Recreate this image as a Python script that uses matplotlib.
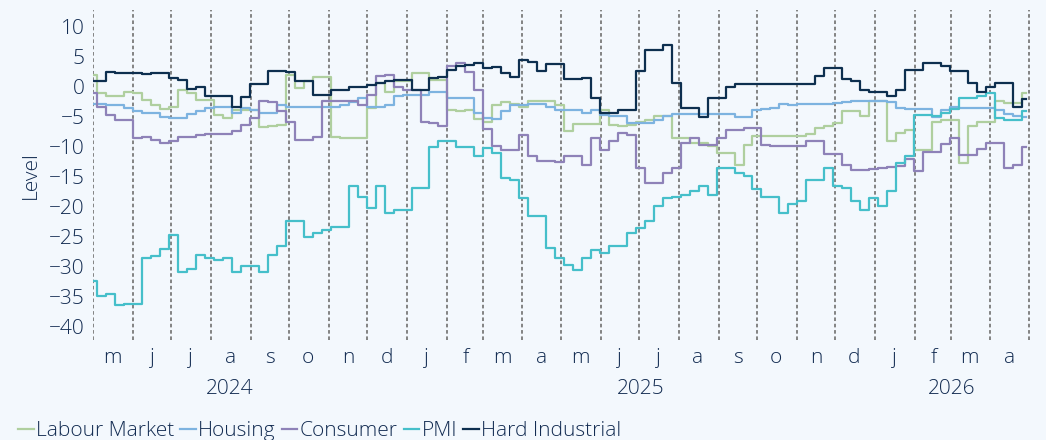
import matplotlib
matplotlib.use("Agg")
import matplotlib.pyplot as plt
import matplotlib.dates as mdates
import matplotlib.transforms as mtransforms
import pandas as pd

# weekly readings, 2024-05-01 .. 2026-04-29
weeks = pd.date_range("2024-05-01", periods=105, freq="7D")

labour_market = [
    2.0, -1.0, -1.6, -1.6, -0.9, -1.0, -2.2, -3.0, -3.7, -3.4, -0.5, -1.0, -2.2, -2.2, -4.7, -5.2,
    -3.8, -3.8, -3.8, -6.7, -6.5, -6.3, 2.0, -0.2, 0.9, 1.6,
    1.6, -8.3, -8.6, -8.6, -8.6, -3.5, 0.6, -0.8, 0.9, 0.9, 2.3, 2.3, 1.2, 1.2, -3.8, -4.0, -3.8,
    -5.3, -5.8, -3.0, -2.6, -2.8, -3.3, -2.4, -2.3, -2.3, -3.0,
    -7.4, -6.2, -6.2, -6.2, -3.8, -6.3, -6.6, -6.3, -5.8, -5.5, -4.9, -4.9, -8.6, -8.6, -9.4, -9.4,
    -9.9, -11.1, -11.1, -13.0, -9.7, -8.2, -8.2, -8.2, -8.2, -8.2,
    -8.2, -7.8, -6.9, -6.6, -6.1, -4.1, -4.1, -4.9, -2.4, -2.4, -9.1, -7.7, -7.2, -10.5, -10.5, -5.8,
    -5.5, -5.5, -12.7, -6.6, -5.9, -5.9, -2.4, -2.7, -2.7, -1.0,
]
housing = [
    -2.9, -2.9, -3.0, -3.0, -3.6, -4.1, -4.3, -4.3, -5.1, -5.2, -5.2, -4.6, -4.0, -3.6, -3.4, -3.4,
    -4.4, -3.6, -3.8, -4.4, -4.4, -3.0, -3.3, -3.3, -3.3, -3.3,
    -3.4, -3.4, -3.0, -2.6, -1.8, -3.3, -3.4, -3.0, -1.5, -1.3, -1.3, -1.3, -0.9, -0.9, -1.8, -1.8,
    -1.9, -4.4, -5.2, -5.3, -4.1, -3.0, -3.0, -2.8, -2.8, -3.3, -3.8,
    -3.8, -3.8, -4.4, -3.8, -4.7, -4.8, -4.8, -6.0, -6.0, -6.0, -5.5, -4.9, -4.5, -4.5, -4.5, -4.5,
    -4.5, -4.5, -4.5, -5.1, -5.1, -3.8, -3.7, -3.5, -2.8, -3.0,
    -2.8, -2.8, -2.9, -2.8, -2.7, -2.5, -2.4, -2.4, -2.4, -2.3, -2.5, -3.6, -3.7, -3.7, -3.7, -5.1,
    -3.8, -3.3, -3.6, -3.6, -3.6, -3.6, -3.9, -4.5, -4.8, -5.1,
]
consumer = [
    -1.0, -3.3, -4.7, -5.5, -5.5, -8.6, -8.3, -8.8, -9.4, -9.0, -8.3, -8.3, -8.0, -7.8, -7.8, -7.8,
    -7.4, -6.3, -5.2, -2.4, -2.6, -4.0, -5.8, -8.8, -8.8, -8.3,
    -2.4, -2.4, -2.4, -2.4, -3.0, -1.3, 1.8, 2.0, 0.0, -0.5, -0.5, -5.8, -6.0, -6.5, 3.5, 3.9, 2.5,
    -0.5, -7.0, -9.9, -10.5, -10.5, -8.0, -11.6, -12.4, -12.4, -12.6,
    -11.6, -11.6, -13.0, -8.6, -10.5, -9.0, -7.7, -8.0, -13.6, -16.1, -16.1, -14.4, -13.5, -9.3,
    -8.6, -9.7, -9.7, -8.6, -7.2, -7.2, -6.9, -6.9, -9.7, -9.8, -9.8, -9.9,
    -9.9, -9.1, -9.1, -11.2, -11.2, -13.0, -13.8, -13.8, -13.7, -13.6, -13.3, -13.2, -12.0, -14.0,
    -10.8, -10.8, -9.5, -8.6, -11.3, -11.3, -10.4, -9.4, -9.4, -13.6, -13.0, -10.0,
]
pmi = [
    -32.4, -34.9, -34.6, -36.4, -36.2, -36.2, -28.6, -28.2, -27.0, -24.7, -30.8, -30.4, -28.0, -28.6,
    -28.9, -28.6, -30.8, -29.9, -29.9, -30.8, -28.0, -26.5, -22.3, -22.3, -25.0, -24.3,
    -23.8, -23.3, -23.3, -16.6, -18.3, -20.2, -16.6, -21.1, -20.5, -20.5, -16.9, -16.9, -10.0, -9.1,
    -9.1, -10.0, -10.0, -11.6, -10.2, -11.1, -15.2, -15.5, -18.6, -21.6, -21.6, -26.9, -28.5,
    -29.7, -30.5, -28.6, -27.2, -27.7, -26.6, -26.6, -24.4, -23.6, -22.4, -19.9, -18.6, -18.3, -18.0,
    -17.4, -16.6, -18.0, -13.6, -13.6, -14.4, -14.9, -17.0, -18.3, -18.3, -21.1, -19.5,
    -19.1, -15.5, -15.5, -13.6, -16.6, -16.9, -19.1, -20.5, -18.6, -19.9, -17.4, -12.7, -11.6, -4.7,
    -4.7, -4.9, -4.4, -3.7, -1.9, -1.9, -1.5, -1.05, -5.2, -5.5, -5.5, -4.0,
]
hard_industrial = [
    1.0, 1.0, 2.4, 2.3, 2.3, 2.3, 2.2, 2.3, 2.3, 1.4, 1.2, -0.4, -0.1, -1.5, -1.5, -1.5, -3.3, -1.7,
    0.5, 0.5, 2.7, 2.7, 2.4, 1.0, 1.0, -1.3,
    -1.3, -0.6, -0.5, 0.0, 0.0, 0.3, 0.6, 1.0, 1.2, 1.2, -0.5, -0.5, 1.4, 1.7, 2.8, 3.4, 3.7, 3.9,
    3.1, 3.3, 2.3, 1.7, 4.5, 4.2, 2.7, 3.8, 3.8,
    1.3, 1.3, 1.4, -1.9, -4.4, -4.4, -3.9, -3.9, 2.6, 6.2, 6.2, 7.0, 0.6, -3.6, -3.6, -5.1, -1.9,
    -1.9, 0.0, 0.4, 0.4, 0.5, 0.5, 0.5, 0.5, 0.5,
    0.5, 0.5, 1.8, 3.1, 3.1, 1.3, 1.0, -0.5, -0.8, -0.8, -1.5, -0.5, 2.8, 2.8, 3.9, 3.9, 3.5, 2.6,
    2.6, 0.6, -0.8, 0.0, 0.6, 0.6, -3.3, -2.0,
]

series = {
    "Labour Market": (labour_market, "#afcf9f"),
    "Housing": (housing, "#7db3e0"),
    "Consumer": (consumer, "#8e82b8"),
    "PMI": (pmi, "#45bfca"),
    "Hard Industrial": (hard_industrial, "#0d2f4f"),
}

year_labels = ["2024", "2025", "2026"]
year_label_dates = ["2024-08-16", "2025-07-02", "2026-03-02"]

BG = "#f3f8fd"
TEXT = "#132c52"
plt.rcParams["font.family"] = ["Open Sans", "DejaVu Sans"]
plt.rcParams["font.size"] = 15
plt.rcParams["font.weight"] = "light"
plt.rcParams["axes.labelweight"] = "light"

fig = plt.figure(figsize=(10.46, 4.4), dpi=100, facecolor=BG)
ax = fig.add_axes([93 / 1046, 1 - 340 / 440, 937 / 1046, 330 / 440], facecolor=BG)

for name, (values, color) in series.items():
    ax.plot(weeks, values, drawstyle="steps-mid", color=color, lw=1.6, label=name)

ax.set_xlim(pd.Timestamp("2024-05-01"), pd.Timestamp("2026-05-02"))
ax.set_ylim(-42.2, 12.8)
ax.set_yticks(range(-40, 11, 5))

ax.xaxis.set_major_locator(mdates.MonthLocator())
ax.xaxis.set_major_formatter(plt.NullFormatter())
ax.xaxis.set_minor_locator(mdates.MonthLocator(bymonthday=16))
ax.xaxis.set_minor_formatter(mdates.DateFormatter("%b"))
ax.tick_params(axis="x", which="both", length=0)
ax.tick_params(axis="x", which="minor", pad=6)
ax.tick_params(axis="y", length=0, pad=6)
ax.grid(True, axis="x", which="major", color="#7a7a7a", lw=1.3, linestyle=(0, (2, 1.5)))

fig.canvas.draw()
ax.set_xticklabels([t.get_text()[0].lower() for t in ax.xaxis.get_minorticklabels()], minor=True)
for lab in ax.get_xticklabels(minor=True) + ax.get_yticklabels():
    lab.set_color(TEXT)

trans = mtransforms.blended_transform_factory(ax.transData, ax.transAxes)
for label, d in zip(year_labels, year_label_dates):
    ax.text(pd.Timestamp(d), -0.15, label, transform=trans, ha="center", va="center", color=TEXT)

ax.set_ylabel("Level", color=TEXT, labelpad=6)
for s in ax.spines.values():
    s.set_visible(False)

fig.legend(loc="center left", bbox_to_anchor=(18 / 1046, 9 / 440), ncol=5, frameon=False,
           handlelength=0.75, handletextpad=0.1, columnspacing=0.3,
           borderpad=0, borderaxespad=0, labelcolor=TEXT)

fig.savefig("out.png", dpi=100, facecolor=BG)
